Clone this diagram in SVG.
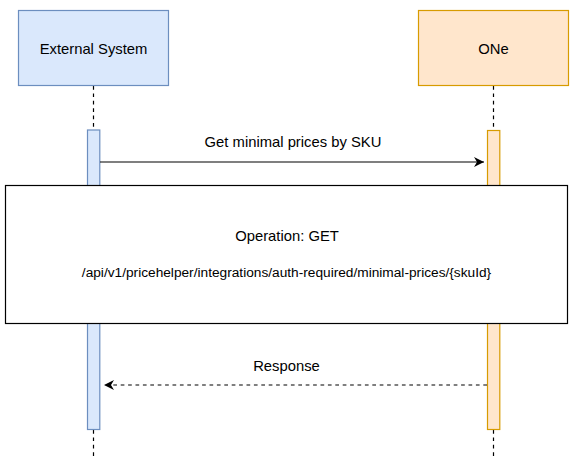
<svg xmlns="http://www.w3.org/2000/svg" width="578" height="466" viewBox="0 0 578 466">
<defs>
<marker id="arr" viewBox="0 0 10 10" refX="10" refY="5" markerWidth="10" markerHeight="10" markerUnits="userSpaceOnUse" orient="auto">
<path d="M0,0 L10,5 L0,10 L3,5 Z" fill="#000"/>
</marker>
</defs>
<style>
text{font-family:"Liberation Sans",Arial,sans-serif;font-size:14.8px;fill:#000;text-anchor:middle}
.small{font-size:13.7px}
.blue{fill:#dae8fc;stroke:#6c8ebf;stroke-width:1.2}
.orange{fill:#ffe6cc;stroke:#d79b00;stroke-width:1.2}
.life{stroke:#000;stroke-width:1.2;stroke-dasharray:3.7 3.7;fill:none}
.msg{stroke:#000;stroke-width:1.2;fill:none}
.ret{stroke:#000;stroke-width:1.2;fill:none;stroke-dasharray:3.7 3.7}
.note{fill:#fff;stroke:#000;stroke-width:1.2}
</style>
<rect width="578" height="466" fill="#fff"/>
<g id="lifelines">
<line class="life" x1="93.5" y1="86" x2="93.5" y2="130"/>
<line class="life" x1="93.5" y1="430" x2="93.5" y2="458"/>
<line class="life" x1="493.5" y1="86" x2="493.5" y2="130"/>
<line class="life" x1="493.5" y1="430" x2="493.5" y2="458"/>
</g>
<g id="external-system">
<rect class="blue" x="18.5" y="10.5" width="150" height="75"/>
<text x="93.5" y="53.5">External System</text>
</g>
<g id="one">
<rect class="orange" x="418.5" y="10.5" width="150" height="75"/>
<text x="493.5" y="53.5">ONe</text>
</g>
<g id="activation-external">
<rect class="blue" x="87.5" y="130" width="12.3" height="299.5"/>
</g>
<g id="activation-one">
<rect class="orange" x="487.5" y="130.5" width="12.3" height="299"/>
</g>
<g id="connectors">
<line class="msg" x1="100" y1="162" x2="484" y2="162" marker-end="url(#arr)"/>
<text x="293" y="147">Get minimal prices by SKU</text>
<line class="ret" x1="487" y1="385" x2="104" y2="385" marker-end="url(#arr)"/>
<text x="286.5" y="371">Response</text>
</g>
<g id="operation-note">
<rect class="note" x="5.5" y="185.5" width="562" height="138"/>
<text x="287" y="241">Operation: GET</text>
<text class="small" x="286.5" y="277">/api/v1/pricehelper/integrations/auth-required/minimal-prices/{skuId}</text>
</g>
</svg>
